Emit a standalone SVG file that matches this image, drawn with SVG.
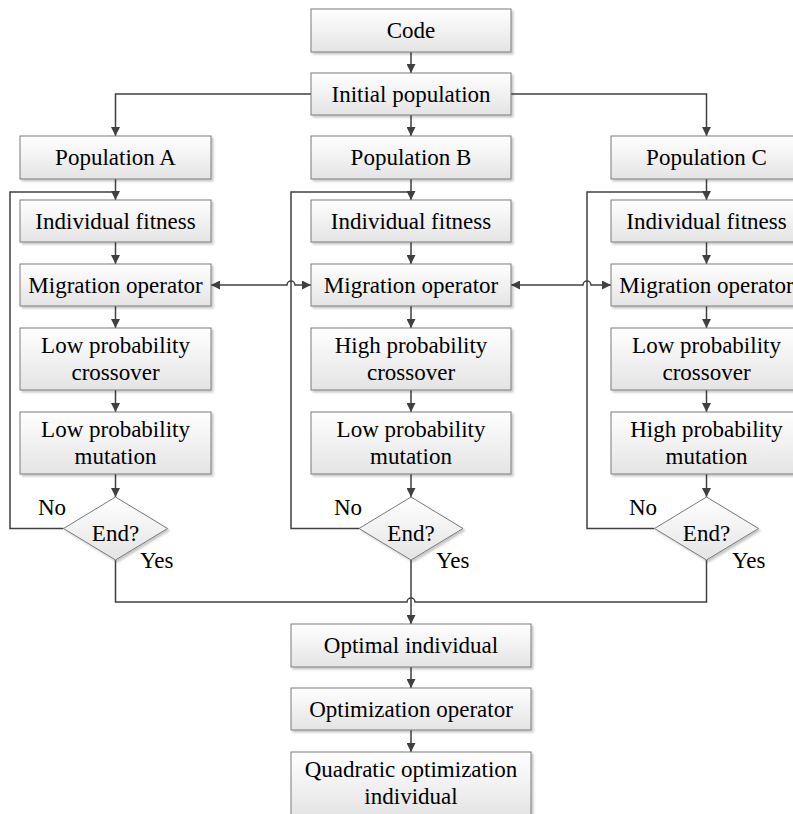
<svg xmlns="http://www.w3.org/2000/svg" width="793" height="814" viewBox="0 0 793 814">
<defs>
<linearGradient id="g" x1="0" y1="0" x2="0" y2="1">
<stop offset="0" stop-color="#ffffff"/>
<stop offset="1" stop-color="#e4e4e4"/>
</linearGradient>
<filter id="sh" x="-5%" y="-5%" width="115%" height="125%">
<feDropShadow dx="2" dy="2" stdDeviation="1" flood-color="#000" flood-opacity="0.22"/>
</filter>
<marker id="ah" viewBox="0 0 10 10" refX="10" refY="5" markerWidth="9" markerHeight="9" markerUnits="userSpaceOnUse" orient="auto-start-reverse">
<path d="M0,0 L10,5 L0,10 z" fill="#404040"/>
</marker>
</defs>
<style>
.b{fill:url(#g);stroke:#7a7a7a;stroke-width:1;filter:url(#sh)}
.t{text-anchor:middle}
.c{fill:none;stroke:#404040;stroke-width:1.5}
.a{marker-end:url(#ah)}
.ab{marker-start:url(#ah);marker-end:url(#ah)}
</style>
<rect width="793" height="814" fill="#ffffff"/>
<g id="connectors">
<path class="c a" d="M411,52 V73"/>
<path class="c a" d="M311,94 H115.5 V136"/>
<path class="c a" d="M411,115 V136"/>
<path class="c a" d="M511,94 H706.5 V136"/>
<path class="c a" d="M115.5,179 V200"/>
<path class="c a" d="M115.5,242 V264"/>
<path class="c a" d="M115.5,306 V328"/>
<path class="c a" d="M115.5,390 V412"/>
<path class="c a" d="M115.5,474 V497"/>
<path class="c a" d="M411,179 V200"/>
<path class="c a" d="M411,242 V264"/>
<path class="c a" d="M411,306 V328"/>
<path class="c a" d="M411,390 V412"/>
<path class="c a" d="M411,474 V497"/>
<path class="c a" d="M706.5,179 V200"/>
<path class="c a" d="M706.5,242 V264"/>
<path class="c a" d="M706.5,306 V328"/>
<path class="c a" d="M706.5,390 V412"/>
<path class="c a" d="M706.5,474 V497"/>
<path class="c" d="M63.5,528.5 H10 V192 H115.5"/>
<path class="c" d="M359,528.5 H291 V192 H411"/>
<path class="c" d="M654.5,528.5 H587 V192 H706.5"/>
<path class="c ab" d="M211,285 H287 A4,4 0 0 1 295,285 H311"/>
<path class="c ab" d="M511,285 H583 A4,4 0 0 1 591,285 H611"/>
<path class="c" d="M115.5,560 V602 H407 A4,4 0 0 1 415,602 H706.5 V560"/>
<path class="c a" d="M411,560 V624"/>
<path class="c a" d="M411,667 V688"/>
<path class="c a" d="M411,730 V752"/>
</g>
<g font-family="Liberation Serif, DejaVu Serif, serif" font-size="23" fill="#000">
<g id="code"><rect class="b" x="311" y="9" width="200" height="43"/><text class="t" x="411" y="38">Code</text></g>
<g id="initial"><rect class="b" x="311" y="73" width="200" height="42"/><text class="t" x="411" y="102">Initial population</text></g>
<g id="popA"><rect class="b" x="20" y="136" width="191" height="43"/><text class="t" x="115.5" y="165">Population A</text></g>
<g id="popB"><rect class="b" x="311" y="136" width="200" height="43"/><text class="t" x="411" y="165">Population B</text></g>
<g id="popC"><rect class="b" x="611" y="136" width="191" height="43"/><text class="t" x="706.5" y="165">Population C</text></g>
<g id="fitA"><rect class="b" x="20" y="200" width="191" height="42"/><text class="t" x="115.5" y="229">Individual fitness</text></g>
<g id="fitB"><rect class="b" x="311" y="200" width="200" height="42"/><text class="t" x="411" y="229">Individual fitness</text></g>
<g id="fitC"><rect class="b" x="611" y="200" width="191" height="42"/><text class="t" x="706.5" y="229">Individual fitness</text></g>
<g id="migA"><rect class="b" x="20" y="264" width="191" height="42"/><text class="t" x="115.5" y="293">Migration operator</text></g>
<g id="migB"><rect class="b" x="311" y="264" width="200" height="42"/><text class="t" x="411" y="293">Migration operator</text></g>
<g id="migC"><rect class="b" x="611" y="264" width="191" height="42"/><text class="t" x="706.5" y="293">Migration operator</text></g>
<g id="crossA"><rect class="b" x="20" y="328" width="191" height="62"/><text class="t" x="115.5" y="353">Low probability</text><text class="t" x="115.5" y="380">crossover</text></g>
<g id="crossB"><rect class="b" x="311" y="328" width="200" height="62"/><text class="t" x="411" y="353">High probability</text><text class="t" x="411" y="380">crossover</text></g>
<g id="crossC"><rect class="b" x="611" y="328" width="191" height="62"/><text class="t" x="706.5" y="353">Low probability</text><text class="t" x="706.5" y="380">crossover</text></g>
<g id="mutA"><rect class="b" x="20" y="412" width="191" height="62"/><text class="t" x="115.5" y="437">Low probability</text><text class="t" x="115.5" y="464">mutation</text></g>
<g id="mutB"><rect class="b" x="311" y="412" width="200" height="62"/><text class="t" x="411" y="437">Low probability</text><text class="t" x="411" y="464">mutation</text></g>
<g id="mutC"><rect class="b" x="611" y="412" width="191" height="62"/><text class="t" x="706.5" y="437">High probability</text><text class="t" x="706.5" y="464">mutation</text></g>
<g id="endA"><polygon class="b" points="115.5,497 167.5,528.5 115.5,560 63.5,528.5"/><text class="t" x="115.5" y="541">End?</text><text x="38" y="515">No</text><text x="140" y="568">Yes</text></g>
<g id="endB"><polygon class="b" points="411,497 463,528.5 411,560 359,528.5"/><text class="t" x="411" y="541">End?</text><text x="334" y="515">No</text><text x="436" y="568">Yes</text></g>
<g id="endC"><polygon class="b" points="706.5,497 758.5,528.5 706.5,560 654.5,528.5"/><text class="t" x="706.5" y="541">End?</text><text x="629" y="515">No</text><text x="732" y="568">Yes</text></g>
<g id="optimal"><rect class="b" x="291" y="624" width="240" height="43"/><text class="t" x="411" y="653">Optimal individual</text></g>
<g id="optop"><rect class="b" x="291" y="688" width="240" height="42"/><text class="t" x="411" y="717">Optimization operator</text></g>
<g id="quad"><rect class="b" x="291" y="752" width="240" height="64"/><text class="t" x="411" y="777">Quadratic optimization</text><text class="t" x="411" y="804">individual</text></g>
</g>
</svg>
